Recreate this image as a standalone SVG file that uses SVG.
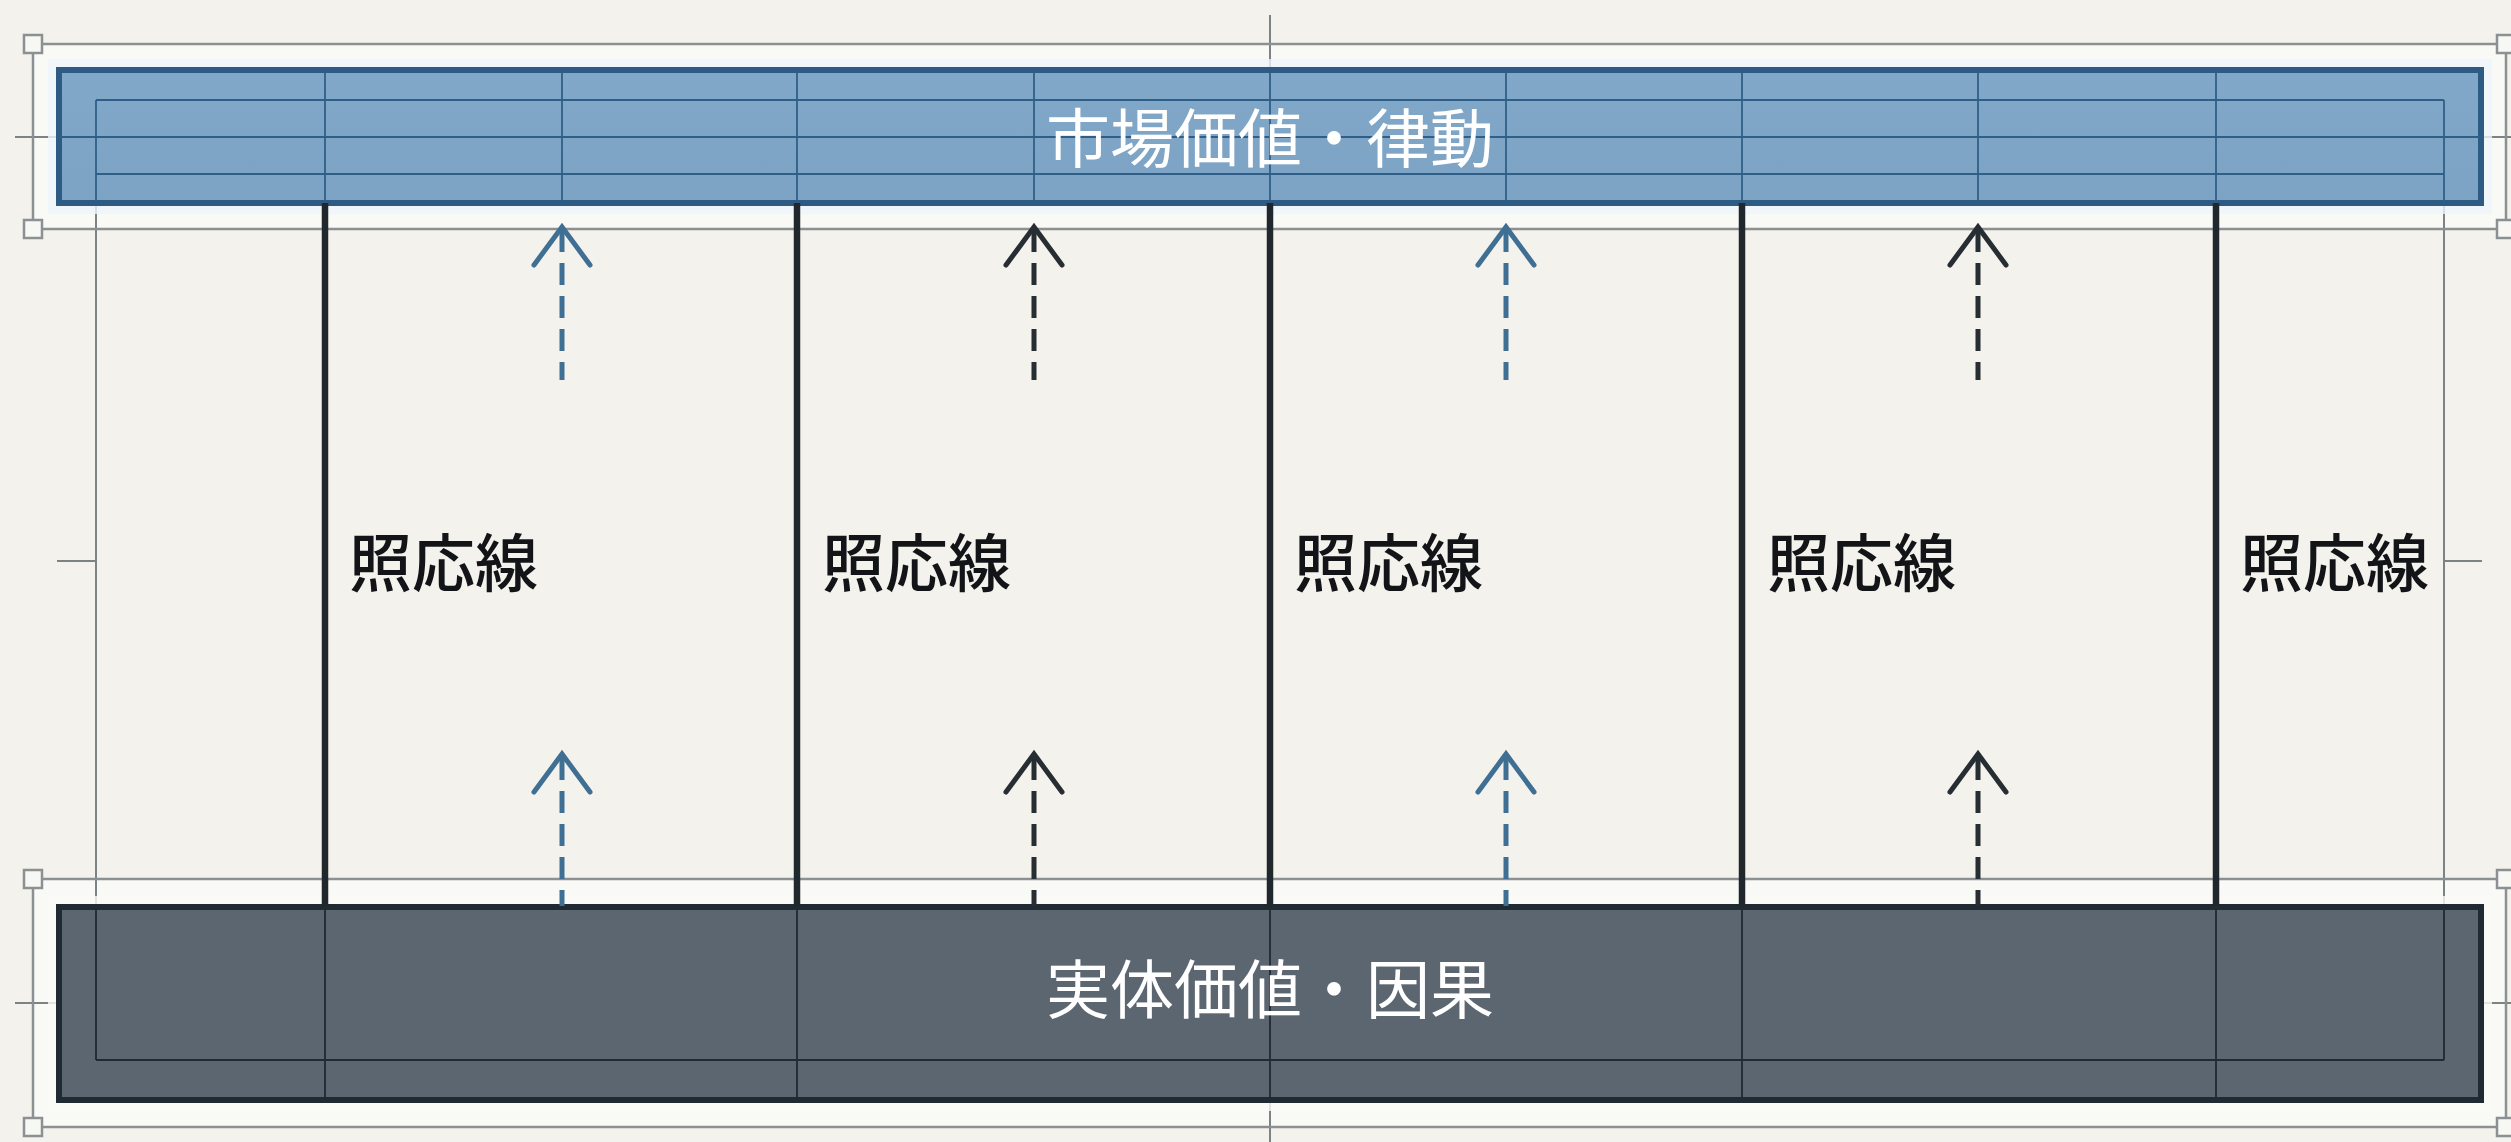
<svg xmlns="http://www.w3.org/2000/svg" width="2511" height="1142" viewBox="0 0 2511 1142">
<defs>
<style>
.frame{stroke:#8b9093;stroke-width:2.5;fill:none}
.handle{fill:#f7f7f4;stroke:#8b9093;stroke-width:2.5}
.guide{stroke:#7d8285;stroke-width:2;fill:none}
.tgrid{stroke:#2f5f88;stroke-width:1.8;fill:none}
.bgrid{stroke:#1f2a33;stroke-width:1.8;fill:none}
.col{stroke:#20282e;stroke-width:6.5;fill:none}
.shaft-b{stroke:#3f6f93;stroke-width:5;stroke-dasharray:22 11;fill:none}
.shaft-d{stroke:#262d33;stroke-width:5;stroke-dasharray:22 11;fill:none}
.head-b{stroke:#3f6f93;stroke-width:5;fill:none;stroke-linecap:round;stroke-linejoin:miter}
.head-d{stroke:#262d33;stroke-width:5;fill:none;stroke-linecap:round;stroke-linejoin:miter}
.boxtext{font-family:"Noto Sans CJK JP","Noto Sans CJK SC",sans-serif;font-size:64px;fill:#ffffff;text-anchor:middle}
.label{font-family:"Noto Sans CJK JP","Noto Sans CJK SC",sans-serif;font-size:63px;font-weight:500;fill:#121417}
</style>
<linearGradient id="gTop" x1="0" y1="0" x2="0" y2="1">
<stop offset="0" stop-color="#82a8c9"/>
<stop offset="1" stop-color="#7ca2c4"/>
</linearGradient>
</defs>
<rect x="0" y="0" width="2511" height="1142" fill="#f4f2ec"/>
<rect x="33" y="44" width="2473" height="185" fill="#f9f9f6"/>
<rect x="33" y="879" width="2473" height="248" fill="#f9f9f6"/>
<g id="guides">
<line class="guide" x1="1270" y1="15" x2="1270" y2="1142"/>
<line class="guide" x1="96" y1="100" x2="96" y2="1060"/>
<line class="guide" x1="2444" y1="100" x2="2444" y2="1060"/>
<line class="guide" x1="57" y1="561" x2="96" y2="561"/>
<line class="guide" x1="2444" y1="561" x2="2482" y2="561"/>
<line class="guide" x1="15" y1="137" x2="59" y2="137"/>
<line class="guide" x1="2481" y1="137" x2="2511" y2="137"/>
<line class="guide" x1="15" y1="1003" x2="59" y2="1003"/>
<line class="guide" x1="2481" y1="1003" x2="2511" y2="1003"/>
</g>
<g id="frame-top">
<rect class="frame" x="33" y="44" width="2473" height="185"/>
<rect class="handle" x="24" y="35" width="18" height="18"/>
<rect class="handle" x="2497" y="35" width="18" height="18"/>
<rect class="handle" x="24" y="220" width="18" height="18"/>
<rect class="handle" x="2497" y="220" width="18" height="18"/>
</g>
<g id="frame-bottom">
<rect class="frame" x="33" y="879" width="2473" height="248"/>
<rect class="handle" x="24" y="870" width="18" height="18"/>
<rect class="handle" x="2497" y="870" width="18" height="18"/>
<rect class="handle" x="24" y="1118" width="18" height="18"/>
<rect class="handle" x="2497" y="1118" width="18" height="18"/>
</g>
<g id="market">
<rect x="52" y="63" width="2436" height="147" fill="none" stroke="#eef5fa" stroke-width="8" opacity="0.8"/>
<rect x="59" y="70" width="2422" height="133" fill="url(#gTop)" stroke="#2d5b83" stroke-width="6"/>
<line class="tgrid" x1="96" y1="100" x2="2444" y2="100"/>
<line class="tgrid" x1="59" y1="137" x2="2481" y2="137"/>
<line class="tgrid" x1="96" y1="174" x2="2444" y2="174"/>
<line class="tgrid" x1="96" y1="100" x2="96" y2="203"/>
<line class="tgrid" x1="2444" y1="100" x2="2444" y2="203"/>
<line class="tgrid" x1="325" y1="72" x2="325" y2="201"/>
<line class="tgrid" x1="562" y1="72" x2="562" y2="201"/>
<line class="tgrid" x1="797" y1="72" x2="797" y2="201"/>
<line class="tgrid" x1="1034" y1="72" x2="1034" y2="201"/>
<line class="tgrid" x1="1270" y1="72" x2="1270" y2="201"/>
<line class="tgrid" x1="1506" y1="72" x2="1506" y2="201"/>
<line class="tgrid" x1="1742" y1="72" x2="1742" y2="201"/>
<line class="tgrid" x1="1978" y1="72" x2="1978" y2="201"/>
<line class="tgrid" x1="2216" y1="72" x2="2216" y2="201"/>
<text class="boxtext" x="1270" y="162">市場価値・律動</text>
</g>
<g id="substance">
<rect x="52" y="900" width="2436" height="207" fill="none" stroke="#fafaf7" stroke-width="8" opacity="0.8"/>
<rect x="59" y="907" width="2422" height="193" fill="#5b6670" stroke="#1f2a32" stroke-width="6"/>
<line class="bgrid" x1="96" y1="910" x2="96" y2="1060"/>
<line class="bgrid" x1="2444" y1="910" x2="2444" y2="1060"/>
<line class="bgrid" x1="96" y1="1060" x2="2444" y2="1060"/>
<line class="bgrid" x1="325" y1="909" x2="325" y2="1098"/>
<line class="bgrid" x1="797" y1="909" x2="797" y2="1098"/>
<line class="bgrid" x1="1270" y1="909" x2="1270" y2="1098"/>
<line class="bgrid" x1="1742" y1="909" x2="1742" y2="1098"/>
<line class="bgrid" x1="2216" y1="909" x2="2216" y2="1098"/>
<text class="boxtext" x="1270" y="1013">実体価値・因果</text>
</g>
<g id="connectors">
<line class="col" x1="325" y1="203" x2="325" y2="907"/>
<line class="col" x1="797" y1="203" x2="797" y2="907"/>
<line class="col" x1="1270" y1="203" x2="1270" y2="907"/>
<line class="col" x1="1742" y1="203" x2="1742" y2="907"/>
<line class="col" x1="2216" y1="203" x2="2216" y2="907"/>
<line class="shaft-b" x1="562" y1="230" x2="562" y2="380"/>
<polyline class="head-b" points="534,265 562,227 590,265"/>
<line class="shaft-d" x1="1034" y1="230" x2="1034" y2="380"/>
<polyline class="head-d" points="1006,265 1034,227 1062,265"/>
<line class="shaft-b" x1="1506" y1="230" x2="1506" y2="380"/>
<polyline class="head-b" points="1478,265 1506,227 1534,265"/>
<line class="shaft-d" x1="1978" y1="230" x2="1978" y2="380"/>
<polyline class="head-d" points="1950,265 1978,227 2006,265"/>
<line class="shaft-b" x1="562" y1="758" x2="562" y2="906"/>
<polyline class="head-b" points="534,792 562,754 590,792"/>
<line class="shaft-d" x1="1034" y1="758" x2="1034" y2="906"/>
<polyline class="head-d" points="1006,792 1034,754 1062,792"/>
<line class="shaft-b" x1="1506" y1="758" x2="1506" y2="906"/>
<polyline class="head-b" points="1478,792 1506,754 1534,792"/>
<line class="shaft-d" x1="1978" y1="758" x2="1978" y2="906"/>
<polyline class="head-d" points="1950,792 1978,754 2006,792"/>
</g>
<g id="labels">
<text class="label" x="349" y="586">照応線</text>
<text class="label" x="822" y="586">照応線</text>
<text class="label" x="1294" y="586">照応線</text>
<text class="label" x="1767" y="586">照応線</text>
<text class="label" x="2240" y="586">照応線</text>
</g>
</svg>
